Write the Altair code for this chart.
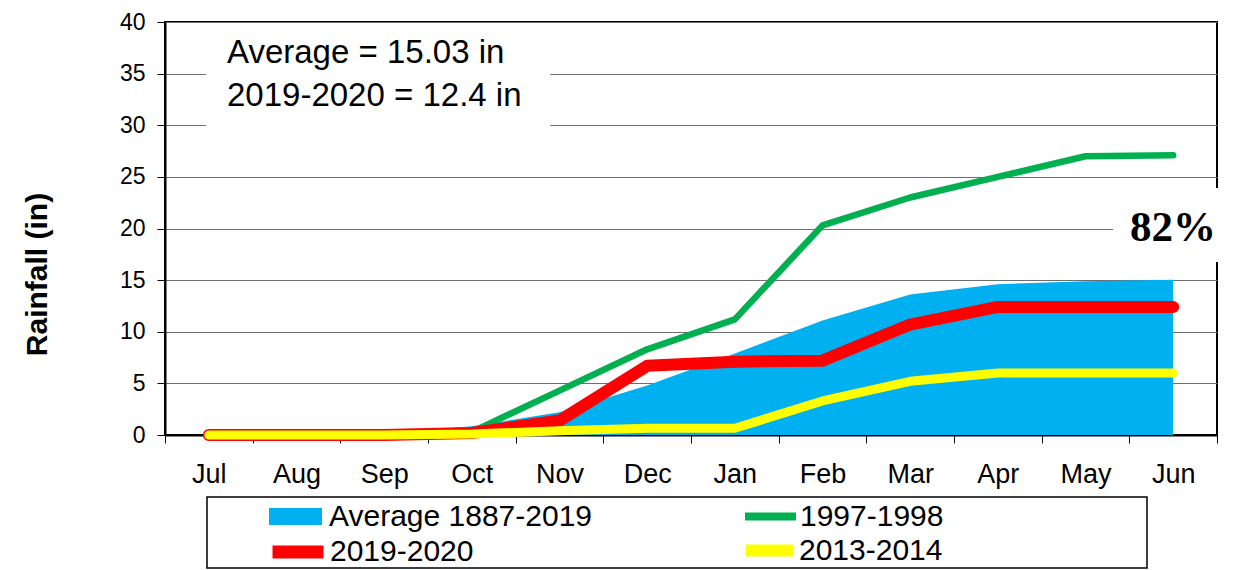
import altair as alt
import pandas as pd

months = ['Jul', 'Aug', 'Sep', 'Oct', 'Nov', 'Dec', 'Jan', 'Feb', 'Mar', 'Apr', 'May', 'Jun']
avg_1887_2019 = [0, 0, 0.1, 0.85, 2.2, 4.8, 7.9, 11.1, 13.6, 14.6, 14.9, 15.03]
y1997_1998 = [0, 0, 0, 0.3, 4.3, 8.3, 11.2, 20.3, 23.0, 25.0, 27.0, 27.1]
y2019_2020 = [0, 0, 0, 0.2, 1.4, 6.7, 7.1, 7.2, 10.7, 12.4, 12.4, 12.4]
y2013_2014 = [0, 0, 0, 0.1, 0.4, 0.65, 0.65, 3.3, 5.2, 6.0, 6.0, 6.0]

series_names = ['Average 1887-2019', '1997-1998', '2019-2020', '2013-2014']
series_values = [avg_1887_2019, y1997_1998, y2019_2020, y2013_2014]
series_colors = ['#00B0F0', '#00B050', '#FF0000', '#FFFF00']

rows = []
for name, vals in zip(series_names, series_values):
    for m, v in zip(months, vals):
        rows.append({'month': m, 'series': name, 'value': v})
df = pd.DataFrame(rows)

FONT = 'Liberation Sans'
TOP = 14          # plot top at page y = 8 + TOP
H = 413

x_enc = alt.X('month:N', sort=months, bandPosition=0.5,
              scale=alt.Scale(type='band', paddingInner=0, paddingOuter=0),
              axis=alt.Axis(title=None, labelAngle=0, grid=False, tickBand='extent',
                            labelFontSize=27, labelFont=FONT, labelColor='black',
                            labelPadding=18, tickSize=8, tickColor='black',
                            domainColor='black', domainWidth=2))
y_enc = alt.Y('value:Q', scale=alt.Scale(domain=[0, 40], nice=False),
              axis=alt.Axis(values=list(range(0, 41, 5)), title='Rainfall (in)',
                            grid=True, gridColor='#6e6e6e', gridWidth=1,
                            labelFontSize=23, labelFont=FONT, labelColor='black',
                            labelPadding=12, tickSize=8, tickColor='black',
                            domainColor='black', domainWidth=2,
                            titleFont=FONT, titleFontSize=30, titleFontWeight='bold',
                            titleColor='black', titleX=-113, titleY=252))

base = alt.Chart(df).encode(x=x_enc, y=y_enc)


def leg(lx, ly, off, **kw):
    return alt.Legend(title=None, orient='none', legendX=lx, legendY=ly,
                      labelFont=FONT, labelFontSize=30, labelColor='black',
                      labelLimit=0, padding=0, labelOffset=off, **kw)


area = base.transform_filter(alt.datum.series == series_names[0]).mark_area(
    opacity=1).encode(
    color=alt.Color('series:N', scale=alt.Scale(domain=[series_names[0]], range=[series_colors[0]]),
                    legend=leg(105, 469, 8, symbolType='M-1.04,-0.33H1.04V0.33H-1.04Z',
                               symbolSize=2601, symbolStrokeWidth=0, symbolOpacity=1)))

line_w = {'1997-1998': 6.5, '2019-2020': 12, '2013-2014': 9}
leg_w = {'1997-1998': 8, '2019-2020': 13, '2013-2014': 12}
leg_size = {'1997-1998': 2601, '2019-2020': 2601, '2013-2014': 2209}
leg_pos = {'1997-1998': (576, 465, 0), '2019-2020': (101, 498, 0), '2013-2014': (575, 499, 0)}

lines = []
for name, col in zip(series_names[1:], series_colors[1:]):
    lx, ly, off = leg_pos[name]
    lines.append(
        base.transform_filter(alt.datum.series == name).mark_line(
            strokeWidth=line_w[name], strokeCap='round', strokeJoin='round').encode(
            color=alt.Color('series:N', scale=alt.Scale(domain=[name], range=[col]),
                            legend=leg(lx, ly, off, symbolType='stroke', symbolSize=leg_size[name],
                                       symbolStrokeWidth=leg_w[name])))
    )

one = pd.DataFrame({'k': [0]})
box1 = alt.Chart(one).mark_rect(fill='white').encode(
    x=alt.value(41), x2=alt.value(385), y=alt.value(2), y2=alt.value(106))
txt1 = alt.Chart(one).mark_text(align='left', baseline='alphabetic', font=FONT,
                                fontSize=33, color='black', text='Average = 15.03 in').encode(
    x=alt.value(62), y=alt.value(41))
txt2 = alt.Chart(one).mark_text(align='left', baseline='alphabetic', font=FONT,
                                fontSize=33, color='black', text='2019-2020 = 12.4 in').encode(
    x=alt.value(62), y=alt.value(84))
box2 = alt.Chart(one).mark_rect(fill='white').encode(
    x=alt.value(948), x2=alt.value(1055), y=alt.value(166), y2=alt.value(240))
txt3 = alt.Chart(one).mark_text(align='right', baseline='alphabetic', font='Liberation Serif',
                                fontSize=43, fontWeight='bold', color='black', text='82%').encode(
    x=alt.value(1051), y=alt.value(219))
legbox = alt.Chart(one).mark_rect(fill='white', stroke='black', strokeWidth=1.5).encode(
    x=alt.value(42), x2=alt.value(982), y=alt.value(475), y2=alt.value(546))

chart = alt.layer(area, *lines, box1, txt1, txt2, box2, txt3, legbox).resolve_scale(
    color='independent'
).properties(
    width=1052, height=H,
    autosize=alt.AutoSizeParams(type='none'),
    padding={'left': 157, 'top': TOP, 'right': 12, 'bottom': 135},
    background='white'
).configure_view(stroke='black', strokeWidth=2)

chart.save('out.html', embed_options={'renderer': 'svg', 'actions': False})
